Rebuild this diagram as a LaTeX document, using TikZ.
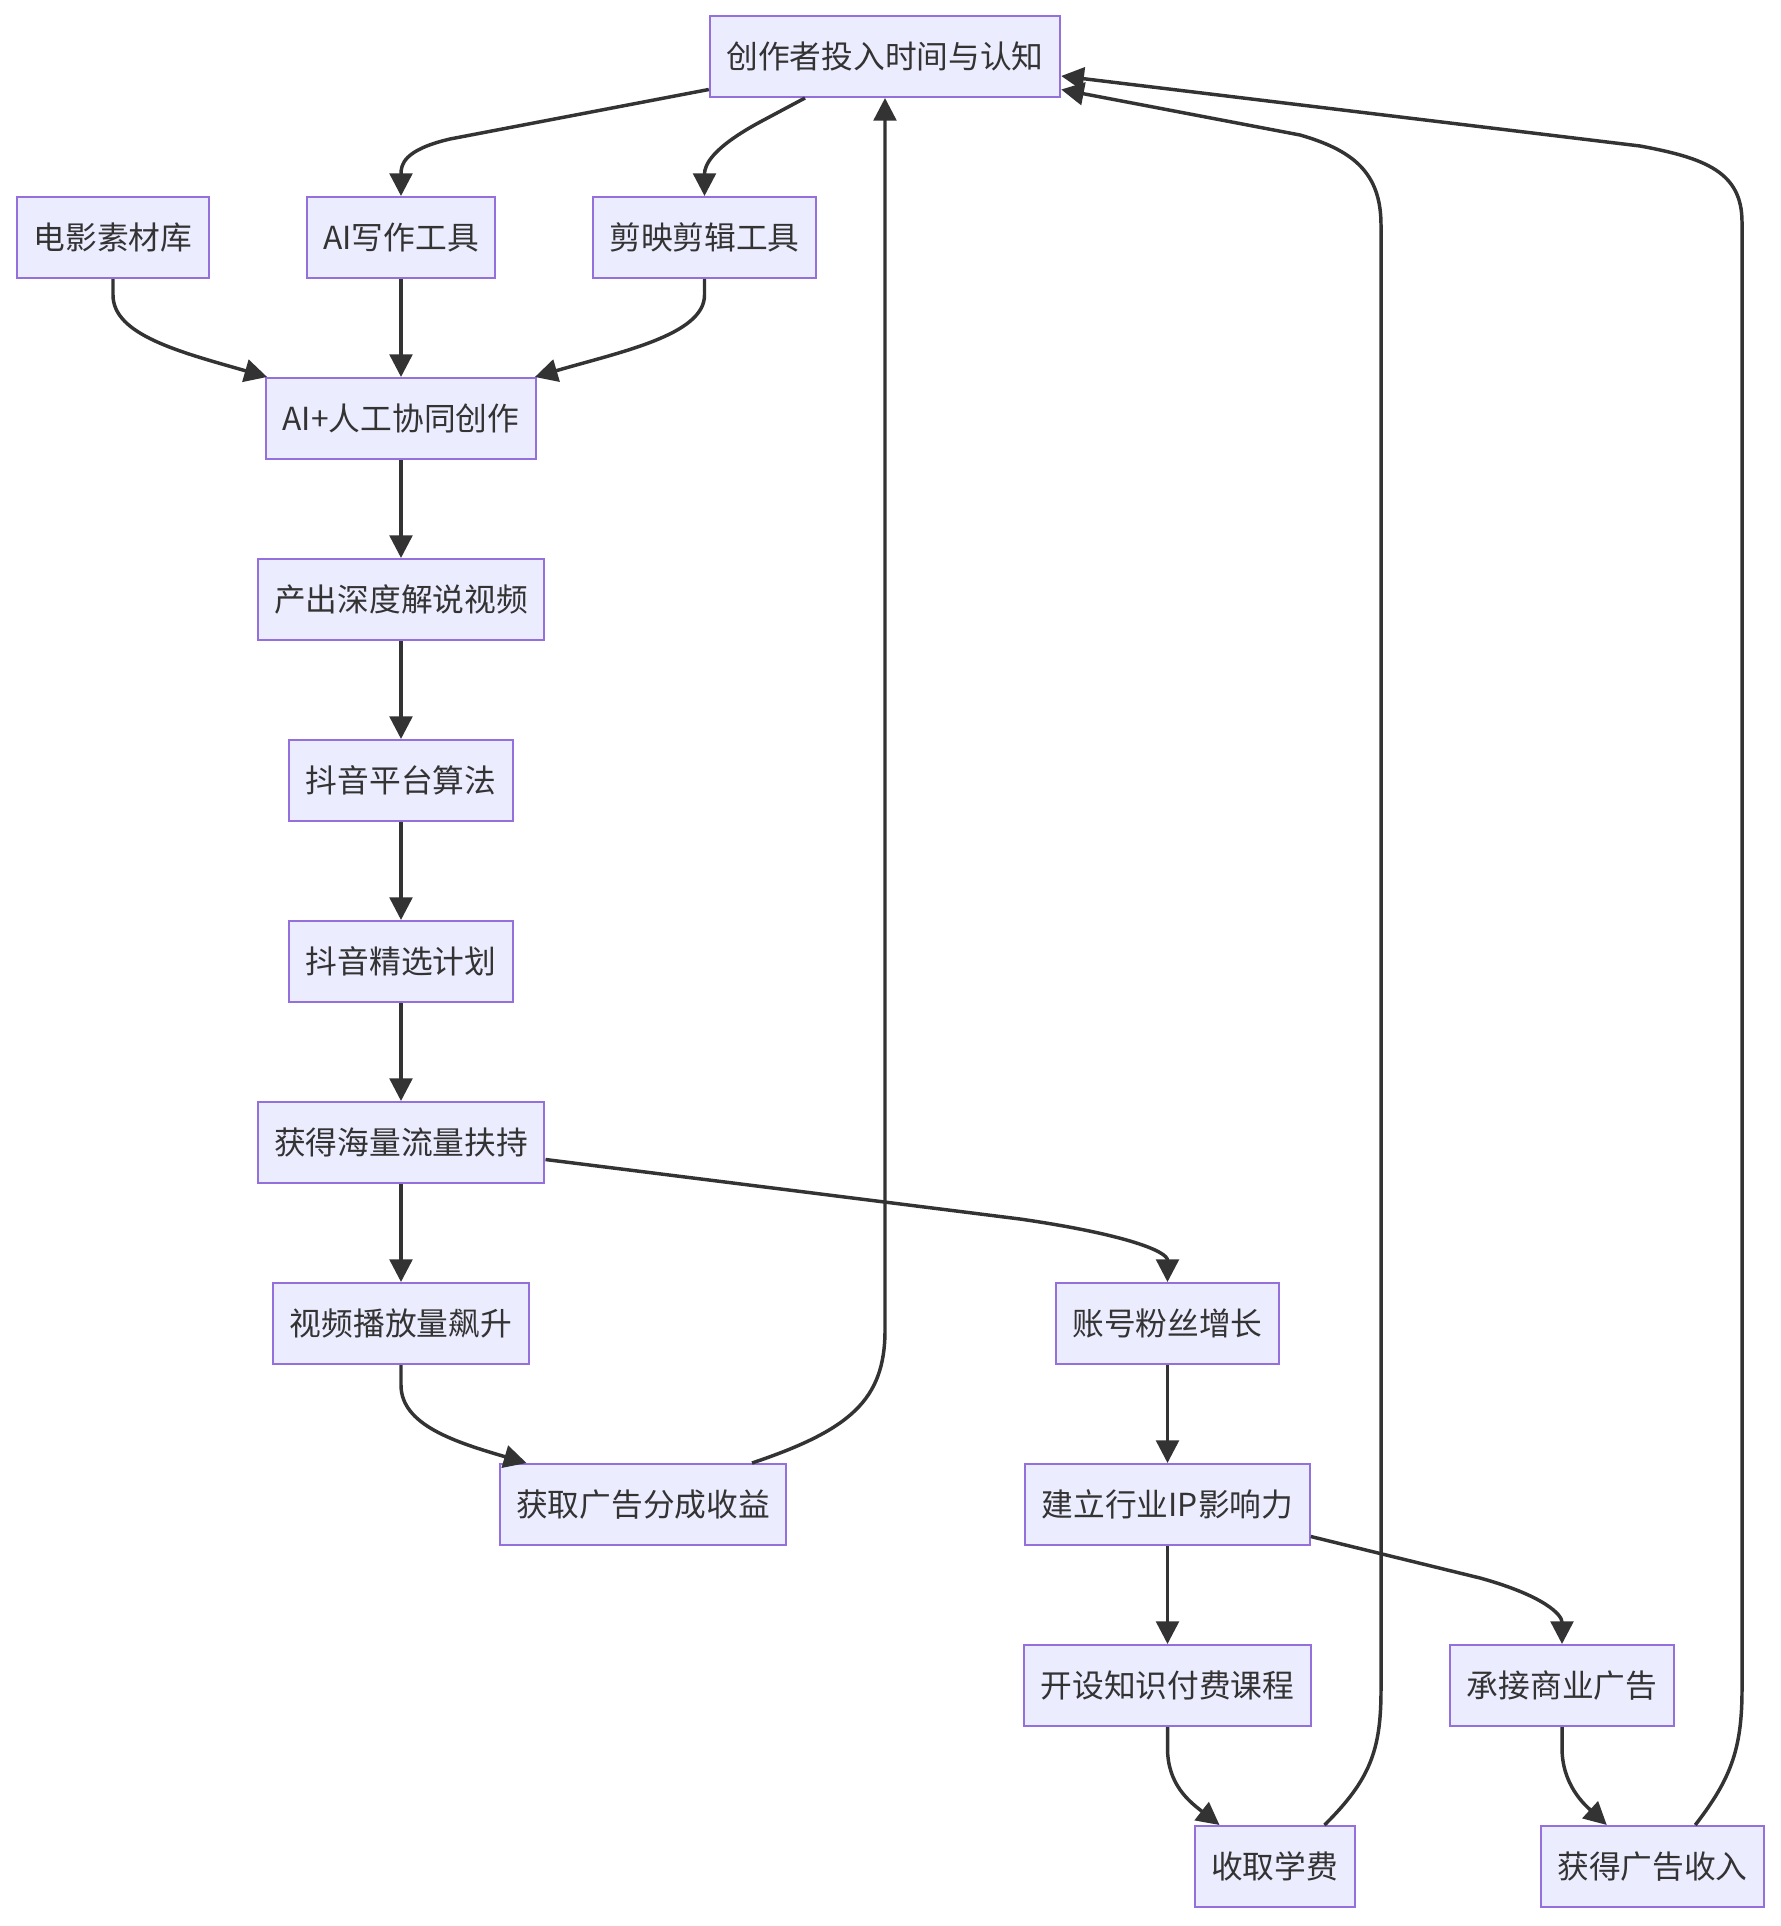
\documentclass[tikz,border=0pt]{standalone}
\usepackage{fontspec}
\setmainfont{Noto Sans CJK SC}
\usetikzlibrary{arrows.meta,calc}
\definecolor{boxfill}{HTML}{ECECFF}
\definecolor{boxline}{HTML}{9370DB}
\definecolor{edgecol}{HTML}{333333}
\begin{document}
\begin{tikzpicture}[x=0.75pt,y=-0.75pt,
  box/.style={draw=boxline, fill=boxfill, line width=1.5pt, text=edgecol,
    font=\fontsize{23.8pt}{28pt}\selectfont, inner xsep=12.4pt, inner ysep=0pt,
    minimum height=60.75pt},
  conn/.style={draw=edgecol, line width=2.6pt, -{Triangle[length=17pt,width=17pt]}}]
\useasboundingbox[fill=white] (0,0) rectangle (1780,1926);
\node[box] (n1) at (885,56.5) {创作者投入时间与认知};
\node[box] (n2) at (113,237.5) {电影素材库};
\node[box] (n3) at (401,237.5) {AI写作工具};
\node[box] (n4) at (704.5,237.5) {剪映剪辑工具};
\node[box] (n5) at (401,418.5) {AI+人工协同创作};
\node[box] (n6) at (401,599.5) {产出深度解说视频};
\node[box] (n7) at (401,780.5) {抖音平台算法};
\node[box] (n8) at (401,961.5) {抖音精选计划};
\node[box] (n9) at (401,1142.5) {获得海量流量扶持};
\node[box] (n10) at (401,1323.5) {视频播放量飙升};
\node[box] (n11) at (643,1504.5) {获取广告分成收益};
\node[box] (n12) at (1167.5,1323.5) {账号粉丝增长};
\node[box] (n13) at (1167.5,1504.5) {建立行业IP影响力};
\node[box] (n14) at (1167.5,1685.5) {开设知识付费课程};
\node[box] (n15) at (1562,1685.5) {承接商业广告};
\node[box] (n16) at (1274.5,1866.5) {收取学费};
\node[box] (n17) at (1652.5,1866.5) {获得广告收入};
% top fan-out
\draw[conn] ($(n1.west)+(0,33)$) -- (450,139) .. controls (403,150) and (401,165) .. (n3.north);
\draw[conn] ($(n1.south)+(-80,0)$) -- (760,122) .. controls (712,148) and (704.5,165) .. (n4.north);
% into 5
\draw[conn] (n2.south) -- (113,295) .. controls (113,335) and (180,352) .. ($(n5.north west)+(2,0)$);
\draw[conn] (n3.south) -- (n5.north);
\draw[conn] (n4.south) -- (704.5,295) .. controls (704.5,335) and (620,352) .. ($(n5.north east)+(-2,0)$);
% main chain
\draw[conn] (n5.south) -- (n6.north);
\draw[conn] (n6.south) -- (n7.north);
\draw[conn] (n7.south) -- (n8.north);
\draw[conn] (n8.south) -- (n9.north);
\draw[conn] (n9.south) -- (n10.north);
\draw[conn] ($(n9.east)+(0,17)$) -- (1020,1219) .. controls (1130,1235) and (1167.5,1252) .. (n12.north);
\draw[conn] (n10.south) -- (401,1385) .. controls (401,1425) and (455,1442) .. ($(n11.north west)+(28,0)$);
\draw[conn] ($(n11.north)+(109,0)$) .. controls (850,1430) and (885,1400) .. (885,1330) -- (n1.south);
% right branch
\draw[conn] (n12.south) -- (n13.north);
\draw[conn] (n13.south) -- (n14.north);
\draw[conn] ($(n13.east)+(0,32)$) -- (1480,1578) .. controls (1545,1596) and (1562,1615) .. (n15.north);
\draw[conn] (n14.south) -- (1167.5,1748) .. controls (1167.5,1785) and (1190,1802) .. ($(n16.north west)+(26,0)$);
\draw[conn] (n15.south) -- (1562,1748) .. controls (1562,1785) and (1585,1805) .. ($(n17.north west)+(67,0)$);
% feedback loops
\draw[conn] ($(n16.north east)+(-31,0)$) .. controls (1370,1780) and (1381,1750) .. (1381,1690) -- (1381,225) .. controls (1381,172) and (1352,150) .. (1300,135) -- ($(n1.east)+(0,33)$);
\draw[conn] ($(n17.north east)+(-70,0)$) .. controls (1730,1780) and (1742,1750) .. (1742,1690) -- (1742,222) .. controls (1742,172) and (1705,158) .. (1640,146) -- ($(n1.east)+(0,19.5)$);
\end{tikzpicture}
\end{document}
